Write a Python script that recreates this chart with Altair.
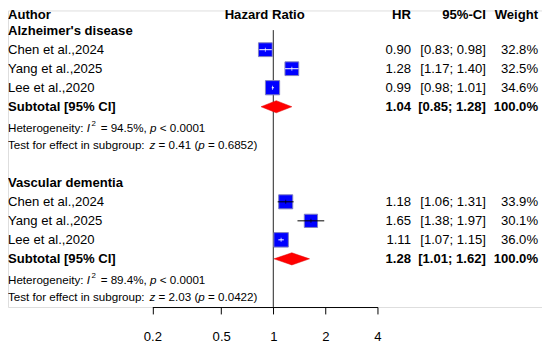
import math
import altair as alt
import pandas as pd

FONT = "Liberation Sans"

# ---------------- data ----------------
authors = ["Chen et al.,2024", "Yang et al.,2025", "Lee et al.,2020"]
groups = ["Alzheimer's disease", "Vascular dementia"]
hr = [[0.90, 1.28, 0.99], [1.18, 1.65, 1.11]]
lower = [[0.83, 1.17, 0.98], [1.06, 1.38, 1.07]]
upper = [[0.98, 1.40, 1.01], [1.31, 1.97, 1.15]]
weight = [[32.8, 32.5, 34.6], [33.9, 30.1, 36.0]]
sub_hr = [1.04, 1.28]
sub_lo = [0.85, 1.01]
sub_hi = [1.28, 1.62]
i2 = ["94.5%", "89.4%"]
het_p = ["< 0.0001", "< 0.0001"]
z_val = ["0.41", "2.03"]
z_p = ["0.6852", "0.0422"]
x_ticks = [0.2, 0.5, 1, 2, 4]

# ---------------- layout ----------------
W, H = 542, 301
X_RANGE = [146.5, 375.0]
Y_DOMAIN = [0, 15]
Y_RANGE = [1.2, 290.7]
FS = 13.3
FS_SMALL = 11.8
COL_AUTHOR = 0
COL_HR = 409
COL_CI = 485
COL_W = 538
COL_TITLE = 260.5
PPD = (X_RANGE[1] - X_RANGE[0]) / (math.log10(x_ticks[-1]) - math.log10(x_ticks[0]))
SIZE_RANGE = 600

xscale = alt.Scale(type="log", domain=[x_ticks[0], x_ticks[-1]], range=X_RANGE, nice=False, zero=False)
yscale = alt.Scale(domain=Y_DOMAIN, range=Y_RANGE, nice=False, zero=False)
xaxis = alt.Axis(values=x_ticks, format="~g", title=None, grid=False, tickSize=7,
                 labelPadding=16, labelFontSize=FS, labelFont=FONT, labelColor="black",
                 tickColor="black", domainColor="black", labelFlush=False, labelOverlap=False)

# Arial / Liberation Sans advance widths (per 1000 em)
AW = {' ': 278, '%': 889, '(': 333, ')': 333, ',': 278, '-': 333, '.': 278, ':': 278,
      ';': 278, '<': 584, '=': 584, 'H': 722, 'I': 278, 'T': 611}
for d in "0123456789":
    AW[d] = 556
for ch, v in zip("abcdefghijklmnopqrstuvwxyz",
                 [556, 556, 500, 556, 556, 278, 556, 556, 222, 222, 500, 222, 833, 556, 556, 556,
                  556, 333, 500, 278, 556, 500, 722, 500, 500, 500]):
    AW[ch] = v


def text_width(s, size):
    return sum(AW.get(c, 556) for c in s) * size / 1000.0


studies, texts, diamonds = [], [], []
hdr_row = 0.2
texts += [
    dict(row=hdr_row, px=COL_AUTHOR, text="Author", style="left_bold"),
    dict(row=hdr_row, px=COL_TITLE, text="Hazard Ratio", style="center_bold"),
    dict(row=hdr_row, px=COL_HR, text="HR", style="right_bold"),
    dict(row=hdr_row, px=COL_CI, text="95%-CI", style="right_bold"),
    dict(row=hdr_row, px=COL_W, text="Weight", style="right_bold"),
]

for g, gname in enumerate(groups):
    base = 1 + 8 * g
    texts.append(dict(row=base, px=COL_AUTHOR, text=gname, style="left_bold"))
    for i, a in enumerate(authors):
        r = base + 1 + i
        area = weight[g][i] / 100 * SIZE_RANGE
        side = math.sqrt(area)
        ci_px = (math.log10(upper[g][i]) - math.log10(lower[g][i])) * PPD
        studies.append(dict(row=r, hr=hr[g][i], lo=lower[g][i], hi=upper[g][i], w=weight[g][i],
                            ci_col="white" if ci_px < side else "black"))
        texts += [
            dict(row=r, px=COL_AUTHOR, text=a, style="left"),
            dict(row=r, px=COL_HR, text=f"{hr[g][i]:.2f}", style="right"),
            dict(row=r, px=COL_CI, text=f"[{lower[g][i]:.2f}; {upper[g][i]:.2f}]", style="right"),
            dict(row=r, px=COL_W, text=f"{weight[g][i]:.1f}%", style="right"),
        ]
    rs = base + 4
    texts += [
        dict(row=rs, px=COL_AUTHOR, text="Subtotal [95% CI]", style="left_bold"),
        dict(row=rs, px=COL_HR, text=f"{sub_hr[g]:.2f}", style="right_bold"),
        dict(row=rs, px=COL_CI, text=f"[{sub_lo[g]:.2f}; {sub_hi[g]:.2f}]", style="right_bold"),
        dict(row=rs, px=COL_W, text="100.0%", style="right_bold"),
    ]
    hh = 0.32
    diamonds += [
        dict(grp=g, x=sub_lo[g], ya=rs, yb=rs),
        dict(grp=g, x=sub_hr[g], ya=rs - hh, yb=rs + hh),
        dict(grp=g, x=sub_hi[g], ya=rs, yb=rs),
    ]
    for r, dy_row, segs in [
        (base + 5, 0.1, [("Heterogeneity: ", "small"), ("I", "small_it"), ("2", "sup"),
                         (f" = {i2[g]}, ", "small"), ("p", "small_it"),
                         (f" {het_p[g]}", "small")]),
        (base + 6, 0.0, [("Test for effect in subgroup: ", "small"), ("z", "small_it"),
                         (f" = {z_val[g]} (", "small"), ("p", "small_it"),
                         (f" = {z_p[g]})", "small")]),
    ]:
        x = COL_AUTHOR
        for s, st in segs:
            size = 8 if st == "sup" else FS_SMALL
            if st == "sup":
                x += 1.5
            lead = len(s) - len(s.lstrip(" "))
            texts.append(dict(row=r + dy_row, px=x + text_width(" " * lead, size),
                              text=s.strip(" "), style=st))
            x += text_width(s, size)
            if st == "sup":
                x += 1.5

studies_df = pd.DataFrame(studies)
texts_df = pd.DataFrame(texts)
diam_df = pd.DataFrame(diamonds)

X = lambda f: alt.X(f, scale=xscale, axis=xaxis)
Y = lambda f: alt.Y(f, scale=yscale, axis=None)

ref_line = alt.Chart(pd.DataFrame({"x": [1.0], "y1": [0.97], "y2": [15.53]})).mark_rule(
    color="#222222", strokeWidth=1
).encode(x=X("x:Q"), y=Y("y1:Q"), y2="y2:Q")

boxes = alt.Chart(studies_df).mark_square(
    fill="#0000FF", stroke="#8080c0", strokeWidth=1, opacity=1, fillOpacity=1
).encode(
    x=X("hr:Q"), y=Y("row:Q"),
    size=alt.Size("w:Q", scale=alt.Scale(domain=[0, 100], range=[0, SIZE_RANGE]), legend=None),
)

ci_lines = alt.Chart(studies_df).mark_rule(strokeWidth=1).encode(
    x=X("lo:Q"), x2="hi:Q", y=Y("row:Q"), color=alt.Color("ci_col:N", scale=None)
)

est_ticks = alt.Chart(studies_df).mark_tick(orient="vertical", size=4, thickness=1).encode(
    x=X("hr:Q"), y=Y("row:Q"), color=alt.Color("ci_col:N", scale=None)
)

diamond = alt.Chart(diam_df).mark_area(
    fill="#FF0000", stroke="#E00000", strokeWidth=0.5, opacity=1, fillOpacity=1
).encode(x=X("x:Q"), y=Y("ya:Q"), y2="yb:Q", detail="grp:N")

STYLES = {
    "left": dict(align="left", fontWeight="normal", fontSize=FS),
    "left_bold": dict(align="left", fontWeight="bold", fontSize=FS),
    "center_bold": dict(align="center", fontWeight="bold", fontSize=FS),
    "right": dict(align="right", fontWeight="normal", fontSize=FS),
    "right_bold": dict(align="right", fontWeight="bold", fontSize=FS),
    "small": dict(align="left", fontWeight="normal", fontSize=FS_SMALL),
    "small_it": dict(align="left", fontWeight="normal", fontSize=FS_SMALL, fontStyle="italic"),
    "sup": dict(align="left", fontWeight="normal", fontSize=8, dy=-4),
}

text_layers = []
for st, kw in STYLES.items():
    sub = texts_df[texts_df["style"] == st]
    if sub.empty:
        continue
    text_layers.append(
        alt.Chart(sub).mark_text(baseline="middle", font=FONT, color="black", **kw).encode(
            x=alt.X("px:Q", scale=None), y=Y("row:Q"), text="text:N"
        )
    )

chart = alt.layer(ref_line, boxes, ci_lines, est_ticks, diamond, *text_layers).properties(
    width=W, height=H, autosize=alt.AutoSizeParams(type="none"),
    padding={"left": 0, "top": 0, "right": 0, "bottom": 35},
).configure_view(stroke=None).configure(background="white")

chart.save("out.html", embed_options={"renderer": "svg", "actions": False})
